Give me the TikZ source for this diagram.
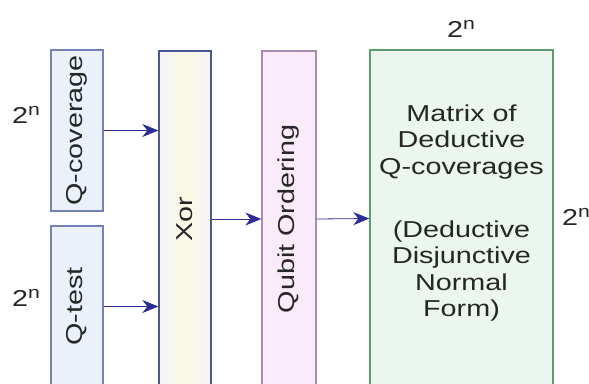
\documentclass[tikz,border=0pt]{standalone}
\usepackage{fontspec}
\setmainfont{Liberation Sans}[FakeStretch=1.25]
\usetikzlibrary{arrows.meta}

\definecolor{inkgray}{HTML}{262626}
\definecolor{arrowblue}{HTML}{2C2E96}
\definecolor{covfill}{HTML}{EAF1FB}
\definecolor{covdraw}{HTML}{7282B8}
\definecolor{xordraw}{HTML}{4C5792}
\definecolor{xoredge}{HTML}{F5F4FC}
\definecolor{xormid}{HTML}{FBF9E2}
\definecolor{qubfill}{HTML}{FAEBFA}
\definecolor{qubdraw}{HTML}{A98AB2}
\definecolor{matfill}{HTML}{EBF7EE}
\definecolor{matdraw}{HTML}{5E9B6E}

% power of two with a raised exponent
\newcommand{\pwrtwo}{2\raisebox{7.5pt}{\fontsize{17}{17}\selectfont n}}

\tikzset{
  x=1pt, y=-1pt,
  box/.style={draw, line width=1.3pt, inner sep=0pt, rectangle},
  covbox/.style={box, draw=covdraw, fill=covfill},
  xorbox/.style={box, draw=xordraw, left color=xoredge, right color=xoredge, middle color=xormid},
  qubbox/.style={box, draw=qubdraw, fill=qubfill},
  matbox/.style={box, draw=matdraw, fill=matfill},
  upright/.style={rotate=90, font=\fontsize{23}{26.5}\selectfont, text=inkgray, inner sep=0pt},
  lbl/.style={font=\fontsize{23}{26.5}\selectfont, text=inkgray, inner sep=0pt},
  arr/.style={draw=arrowblue, line width=0.8pt, -{Stealth[length=16pt,width=13pt,inset=5pt]}},
}

\begin{document}
\begin{tikzpicture}
\useasboundingbox (0,0) rectangle (589,383);

% processing blocks (the tall ones run past the lower edge)
\node[covbox, minimum width=52pt, minimum height=161pt] (qcov) at (77,130.5) {};
\node[covbox, minimum width=52pt, minimum height=161pt] (qtest) at (77,306.5) {};
\node[xorbox, minimum width=52pt, minimum height=336pt] (xor) at (185,219) {};
\node[qubbox, minimum width=54pt, minimum height=336pt] (qub) at (289,219) {};
\node[matbox, minimum width=183pt, minimum height=337pt] (mat) at (461.5,218.5) {};

% block captions
\node[upright] (tcov) at (qcov.center) {Q-coverage};
\node[upright] (ttest) at (qtest.center) {Q-test};
\node[upright] (txor) at (xor.center) {Xor};
\node[upright] (tqub) at (qub.center) {Qubit Ordering};
\node[lbl, align=center] (tmat) at (461.5,213) {Matrix of\\Deductive\\Q-coverages\\[36.5pt](Deductive\\Disjunctive\\Normal\\Form)};

% sizes
\node[lbl, anchor=base west] (ncov) at (12,123) {\pwrtwo};
\node[lbl, anchor=base west] (ntest) at (12,306) {\pwrtwo};
\node[lbl, anchor=base west] (ntop) at (447,37) {\pwrtwo};
\node[lbl, anchor=base west] (nright) at (562,225) {\pwrtwo};

% data flow
\draw[arr] (qcov.east) -- (xor.west |- qcov.east);
\draw[arr] (qtest.east) -- (xor.west |- qtest.east);
\draw[arr] (xor.east) -- (qub.west);
\draw[arr] (qub.east) -- (mat.west);
\end{tikzpicture}
\end{document}
